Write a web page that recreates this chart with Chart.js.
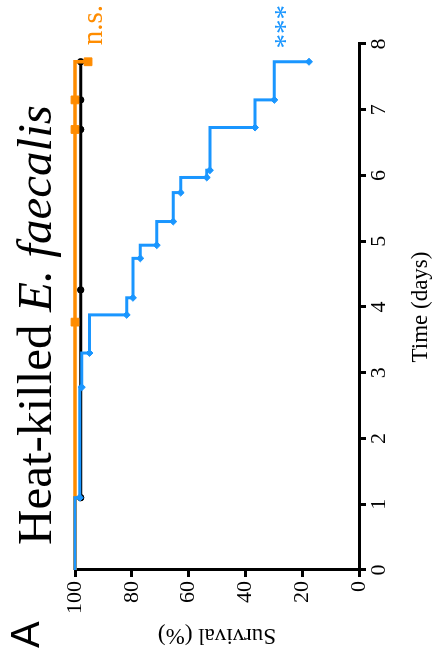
<!DOCTYPE html>
<html>
<head>
<meta charset="utf-8">
<script src="https://cdn.jsdelivr.net/npm/chart.js@4.4.1/dist/chart.umd.min.js"></script>
<style>
  html, body { margin: 0; padding: 0; background: #fff; overflow: hidden; }
  #giro {
    position: absolute; left: 0; top: 659px;
    width: 659px; height: 435px;
    transform: rotate(-90deg); transform-origin: 0 0;
  }
</style>
</head>
<body>
<div id="giro"><canvas id="grafico" width="659" height="435"></canvas></div>
<script>
// Datos (tiempo en días, supervivencia en %)
const tiempoAzul = [0, 1.1, 2.78, 3.3, 3.88, 4.14, 4.74, 4.94, 5.3, 5.74, 5.97, 6.08, 6.73, 7.15, 7.73];
const supervAzul = [100, 98.3, 97.6, 94.9, 81.8, 79.6, 77, 71.2, 65.4, 62.8, 53.6, 52.5, 36.6, 29.8, 17.6];

const tiempoNaranja = [0, 3.77, 6.7, 7.15, 7.73];
const supervNaranja = [100, 100, 100, 100, 95.4];

const tiempoNegro = [0, 1.1, 4.26, 6.7, 7.15, 7.73];
const supervNegro = [100, 98, 98, 98, 98, 98];

const ticksTiempo = [0, 1, 2, 3, 4, 5, 6, 7, 8];
const ticksSuperv = [0, 20, 40, 60, 80, 100];

const AZUL = "#1a96ff";
const NARANJA = "#ff8c00";
const SERIF = "'Liberation Serif', 'Times New Roman', serif";

function puntos(ts, ss) {
    return ts.map((t, i) => ({ x: t, y: ss[i] }));
}
function radios(ts, r) {
    return ts.map((t, i) => (i === 0 ? 0 : r));
}

// Textos extra: título, letra del panel y marcas de significancia
const textosExtra = {
    id: "textosExtra",
    afterDraw(chart) {
        const c = chart.ctx;
        const xs = chart.scales.x;
        const ys = chart.scales.y;
        c.save();
        c.textBaseline = "alphabetic";
        c.textAlign = "left";
        c.fillStyle = "#000";

        // Título con parte en cursiva, ajustado al ancho
        const parte1 = "Heat-killed ";
        const parte2 = "E. faecalis";
        let tam = 46;
        c.font = tam + "px " + SERIF;
        let w1 = c.measureText(parte1).width;
        c.font = "italic " + tam + "px " + SERIF;
        let w2 = c.measureText(parte2).width;
        tam = tam * 440 / (w1 + w2);
        c.font = tam + "px " + SERIF;
        w1 = c.measureText(parte1).width;
        c.fillText(parte1, 114, 51);
        c.font = "italic " + tam + "px " + SERIF;
        c.fillText(parte2, 114 + w1, 51);

        // Letra del panel
        c.font = "40px 'Liberation Sans', Arial, sans-serif";
        c.fillText("A", 11, 39);

        // n.s. y ***
        c.font = "29px " + SERIF;
        c.fillStyle = NARANJA;
        c.fillText("n.s.", xs.getPixelForValue(7.98), ys.getPixelForValue(90.5));
        c.fillStyle = AZUL;
        c.fillText("***", xs.getPixelForValue(7.93), ys.getPixelForValue(22.8));
        c.restore();
    }
};

const ctx = document.getElementById("grafico").getContext("2d");

new Chart(ctx, {
    type: "scatter",
    data: {
        datasets: [
            {
                label: "Azul",
                data: puntos(tiempoAzul, supervAzul),
                showLine: true,
                stepped: true,
                borderColor: AZUL,
                backgroundColor: AZUL,
                borderWidth: 3,
                pointStyle: "rectRot",
                pointRadius: radios(tiempoAzul, 3.5),
                pointBorderWidth: 1
            },
            {
                label: "Naranja",
                data: puntos(tiempoNaranja, supervNaranja),
                showLine: true,
                stepped: true,
                borderColor: NARANJA,
                backgroundColor: NARANJA,
                borderWidth: 3.5,
                pointStyle: "rect",
                pointRadius: radios(tiempoNaranja, 5.5),
                pointBorderWidth: 1
            },
            {
                label: "Negro",
                data: puntos(tiempoNegro, supervNegro),
                showLine: true,
                stepped: true,
                borderColor: "#000",
                backgroundColor: "#000",
                borderWidth: 3,
                pointStyle: "circle",
                pointRadius: radios(tiempoNegro, 3.2),
                pointBorderWidth: 1
            }
        ]
    },
    options: {
        responsive: false,
        animation: false,
        devicePixelRatio: 1,
        clip: false,
        layout: { padding: { top: 75, right: 44, left: 0, bottom: 0 } },
        plugins: {
            legend: { display: false },
            tooltip: { enabled: false }
        },
        scales: {
            x: {
                type: "linear",
                min: 0,
                max: 8,
                afterFit: (s) => { s.height = 76; },
                afterBuildTicks: (s) => { s.ticks = ticksTiempo.map(v => ({ value: v })); },
                ticks: { color: "#000", font: { family: SERIF, size: 22 }, padding: 0 },
                grid: { drawOnChartArea: false, drawTicks: true, tickLength: 7, color: "#000", lineWidth: 3 },
                border: { color: "#000", width: 3 },
                title: {
                    display: true, text: "Time (days)", color: "#000",
                    font: { family: SERIF, size: 23 }, padding: { top: 0, bottom: 0 }
                }
            },
            y: {
                type: "linear",
                min: 0,
                max: 100,
                afterFit: (s) => { s.width = 89; },
                afterBuildTicks: (s) => { s.ticks = ticksSuperv.map(v => ({ value: v })); },
                ticks: { color: "#000", font: { family: SERIF, size: 22 }, padding: 4 },
                grid: { drawOnChartArea: false, drawTicks: true, tickLength: 7, color: "#000", lineWidth: 3 },
                border: { color: "#000", width: 3 },
                title: {
                    display: true, text: "Survival (%)", color: "#000",
                    font: { family: SERIF, size: 23 }, padding: { top: 10, bottom: 0 }
                }
            }
        }
    },
    plugins: [textosExtra]
});
</script>
</body>
</html>
